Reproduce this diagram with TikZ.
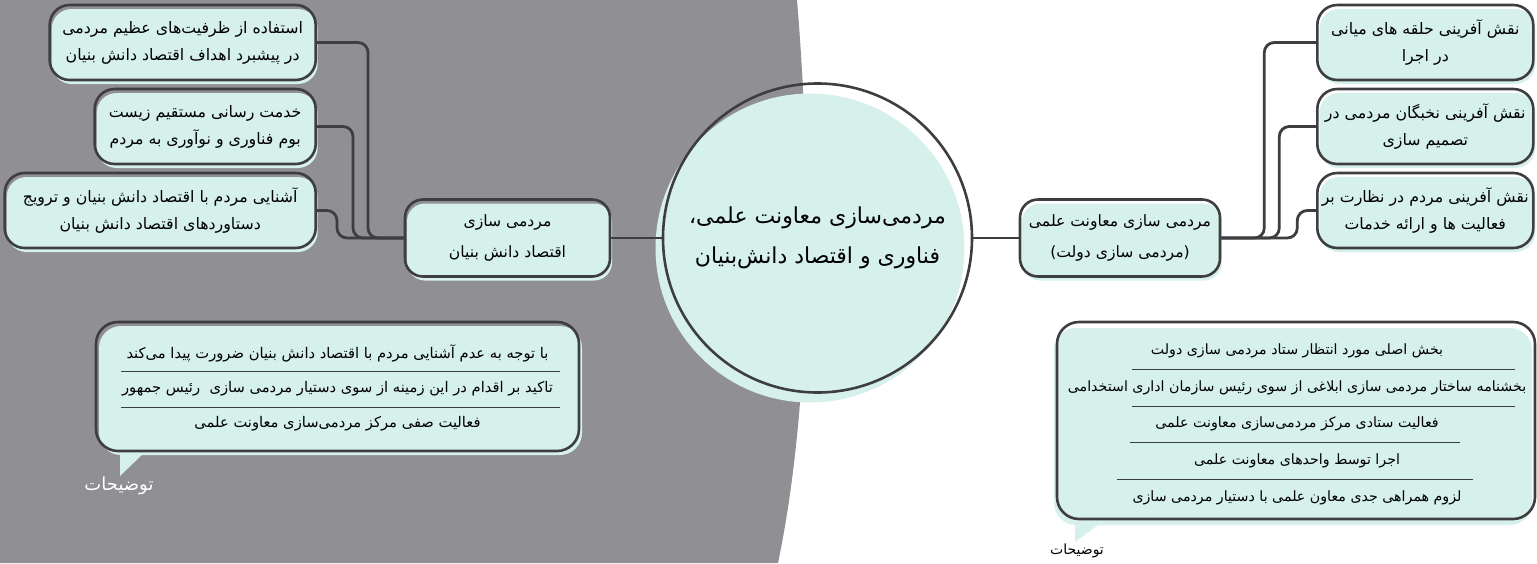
\documentclass[tikz,border=0pt]{standalone}
\usepackage{fontspec}
\usepackage{tikz}
\usetikzlibrary{positioning,shapes,shadows}
\TeXXeTstate=1
\newfontfamily\fafont[Script=Arabic]{DejaVu Sans}
\newcommand{\rl}[1]{\beginR #1\endR}
\definecolor{mint}{RGB}{214,240,236}
\definecolor{edge}{RGB}{62,62,64}
\definecolor{slate}{RGB}{143,143,148}

\tikzset{
  leaf/.style={rectangle, rounded corners=20pt, draw=edge, line width=2.6pt, minimum height=75pt, align=center, inner sep=3pt, font=\fafont\fontsize{15.8}{27}\selectfont, drop shadow={shadow xshift=2pt, shadow yshift=-4pt, fill=mint, opacity=1}},
  mid/.style={leaf, rounded corners=18pt, minimum height=77pt, font=\fafont\fontsize{15.6}{31}\selectfont},
  hub/.style={circle, draw=edge, line width=2.6pt, minimum size=309pt, inner sep=0pt, align=center, font=\fafont\fontsize{22}{40}\selectfont, drop shadow={shadow xshift=-7.5pt, shadow yshift=-10pt, fill=mint, opacity=1}},
  note/.style={rectangle, rounded corners=22pt, draw=edge, line width=2.6pt},
  noteline/.style={inner sep=0pt, font=\fafont\fontsize{14.7}{17}\selectfont},
  sep/.style={draw=edge, line width=1pt},
  tag/.style={inner sep=0pt, font=\fafont\fontsize{14}{16}\selectfont},
  link/.style={draw=edge, line width=2.8pt, rounded corners=10pt}
}

\begin{document}
\begin{tikzpicture}[x=1pt, y=-1pt]
  \useasboundingbox (0,0) rectangle (1537,563);
  % background
  \fill[slate] (0,0) -- (797,0) .. controls (812,180) and (812,400) .. (778,563) -- (0,563) -- cycle;

  % nodes
  \node[hub] (core) at (817.5,238) {\rl{مردمی^^^^200cسازی معاونت علمی،}\\\rl{فناوری و اقتصاد دانش^^^^200cبنیان}};
  \node[mid, minimum width=205pt] (econ) at (507.5,238) {\rl{مردمی سازی}\\\rl{اقتصاد دانش بنیان}};
  \node[mid, minimum width=200pt] (gov) at (1120,238) {\rl{مردمی سازی معاونت علمی}\\\rl{(مردمی سازی دولت)}};

  \node[leaf, anchor=east, minimum width=266pt] (lb1) at (317,42.5) {\rl{استفاده از ظرفیت^^^^200cهای عظیم مردمی}\\\rl{در پیشبرد اهداف اقتصاد دانش بنیان}};
  \node[leaf, anchor=east, minimum width=221pt] (lb2) at (317,126.5) {\rl{خدمت رسانی مستقیم زیست}\\\rl{بوم فناوری و نوآوری به مردم}};
  \node[leaf, anchor=east, minimum width=311pt] (lb3) at (317,210.5) {\rl{آشنایی مردم با اقتصاد دانش بنیان و ترویج}\\\rl{دستاوردهای اقتصاد دانش بنیان}};

  \node[leaf, anchor=west, minimum width=216pt] (rb1) at (1316,42.5) {\rl{نقش آفرینی حلقه های میانی}\\\rl{در اجرا}};
  \node[leaf, anchor=west, minimum width=216pt] (rb2) at (1316,126.5) {\rl{نقش آفرینی نخبگان مردمی در}\\\rl{تصمیم سازی}};
  \node[leaf, anchor=west, minimum width=216pt] (rb3) at (1316,210.5) {\rl{نقش آفرینی مردم در نظارت بر}\\\rl{فعالیت ها و ارائه خدمات}};

  % edges
  \draw[link] (econ.east) -- (core.west);
  \draw[link] (core.east) -- (gov.west);
  \draw[link] (lb1.east) -- ++(51,0) |- (econ.west);
  \draw[link] (lb2.east) -- ++(36,0) |- (econ.west);
  \draw[link] (lb3.east) -- ++(20,0) |- (econ.west);
  \draw[link] (gov.east) -- ++(43,0) |- (rb1.west);
  \draw[link] (gov.east) -- ++(58,0) |- (rb2.west);
  \draw[link] (gov.east) -- ++(76,0) |- (rb3.west);

  % left note
  \fill[mint] (120,449) -- (148,449) -- (120,476) -- cycle;
  \node[note, minimum width=483pt, minimum height=129pt, drop shadow={shadow xshift=3pt, shadow yshift=-4pt, fill=mint, opacity=1}] (lnote) at (337.5,386.5) {};
  \node[noteline] (ln1) at (337.5,353) {\rl{با توجه به عدم آشنایی مردم با اقتصاد دانش بنیان ضرورت پیدا می^^^^200cکند}};
  \node[noteline] (ln2) at (337.5,389) {\rl{تاکید بر اقدام در این زمینه از سوی دستیار مردمی سازی\ \ رئیس جمهور}};
  \node[noteline] (ln3) at (337.5,424) {\rl{فعالیت صفی مرکز مردمی^^^^200cسازی معاونت علمی}};
  \draw[sep] (121,371) -- (560,371);
  \draw[sep] (121,407) -- (560,407);
  \node[tag, text=white, font=\fafont\fontsize{18}{20}\selectfont] (ltag) at (119,486) {\rl{توضیحات}};

  % right note
  \fill[mint] (1075,522) -- (1102,522) -- (1075,542) -- cycle;
  \node[note, minimum width=478pt, minimum height=197pt, drop shadow={shadow xshift=-3pt, shadow yshift=-6pt, fill=mint, opacity=1}] (rnote) at (1296,420.5) {};
  \begin{scope}[noteline/.append style={font=\fafont\fontsize{14.2}{17}\selectfont}]
    \node[noteline] (rn1) at (1297,351) {\rl{بخش اصلی مورد انتظار ستاد مردمی سازی دولت}};
    \node[noteline] (rn2) at (1297,388) {\rl{بخشنامه ساختار مردمی سازی ابلاغی از سوی رئیس سازمان اداری استخدامی}};
    \node[noteline] (rn3) at (1297,424) {\rl{فعالیت ستادی مرکز مردمی^^^^200cسازی معاونت علمی}};
    \node[noteline] (rn4) at (1297,461) {\rl{اجرا توسط واحدهای معاونت علمی}};
    \node[noteline] (rn5) at (1297,498) {\rl{لزوم همراهی جدی معاون علمی با دستیار مردمی سازی}};
  \end{scope}
  \draw[sep] (1132,369.5) -- (1515,369.5);
  \draw[sep] (1132,406) -- (1515,406);
  \draw[sep] (1130,442.5) -- (1460,442.5);
  \draw[sep] (1117,479.5) -- (1473,479.5);
  \node[tag] (rtag) at (1077,551) {\rl{توضیحات}};
\end{tikzpicture}
\end{document}
